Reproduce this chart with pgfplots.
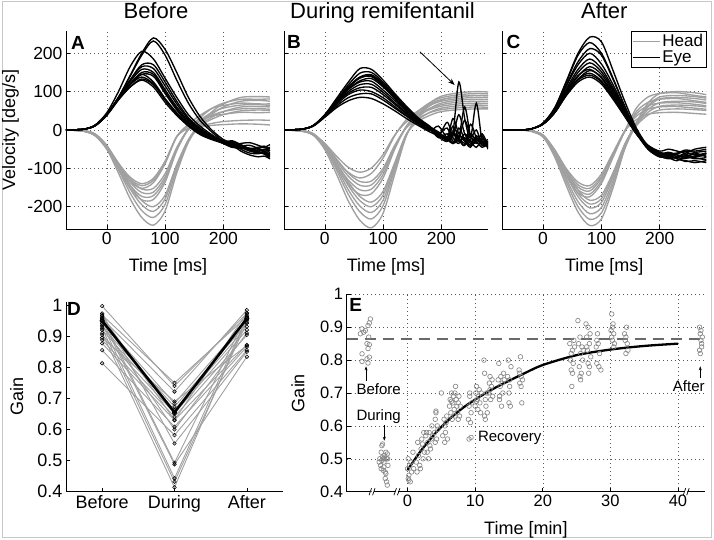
\documentclass[border=0pt]{standalone}
\usepackage{pgfplots}
\pgfplotsset{compat=1.18}
\usepackage{pgfplotstable}
\usetikzlibrary{arrows.meta}
\usepackage{fontspec}
\setmainfont{Liberation Sans}
\definecolor{headc}{RGB}{160,160,160}
\definecolor{ptc}{RGB}{135,135,135}
\definecolor{dashc}{RGB}{105,105,105}
\definecolor{gridc}{RGB}{90,90,90}

\tikzset{plab/.style={anchor=north west, inner sep=0pt, font=\bfseries\fontsize{19}{19}\selectfont}}
\pgfplotsset{
  myax/.style={
    scale only axis,
    axis lines=left,
    axis line style={-, line width=0.8pt},
    tick align=inside,
    major tick length=4pt,
    tick style={line width=0.6pt, black},
    /pgf/number format/assume math mode=true,
    tick label style={font=\fontsize{17.5}{17.5}\selectfont},
    label style={font=\fontsize{18}{18}\selectfont},
  },
  topax/.style={myax, width=204pt, height=198pt, xmin=-70, xmax=280, ymin=-258, ymax=258,
    xtick={0,100,200}, ytick={-200,-100,0,100,200},
    grid=major, grid style={gridc, dash pattern=on 0.8pt off 3.2pt, line width=0.5pt},
    xlabel={Time [ms]},
    xlabel style={at={(axis description cs:0.5,0)}, anchor=center, yshift=-37.5pt},
    title style={at={(axis description cs:0.5,1)}, anchor=base, yshift=6.5pt, font=\fontsize{22}{22}\selectfont},
  },
  headl/.style={headc, line width=1.35pt, smooth, no marks, forget plot},
  eyel/.style={black, line width=1.35pt, smooth, no marks, forget plot},
  dsub/.style={headc, line width=0.9pt, mark=o, mark size=1.8pt, mark options={black, line width=0.55pt}},
}

\pgfplotstableread{
t c1 c2 c3 c4 c5 c6 c7 c8 c9 c10 c11
-70 0 0 0 0 0 0 0 0 0 0 0
-40 -3 -3 -3 -2 -3 -3 -3 -2 -2 -2 -2
-20 -14 -15 -15 -12 -13 -14 -14 -10 -11 -11 -12
0 -45 -46 -49 -42 -44 -47 -49 -40 -42 -46 -50
20 -87 -90 -94 -86 -91 -96 -102 -90 -95 -103 -112
40 -123 -128 -134 -128 -136 -144 -152 -144 -153 -164 -179
60 -140 -145 -152 -154 -163 -173 -182 -184 -195 -210 -228
80 -126 -131 -137 -152 -162 -171 -181 -200 -212 -228 -248
100 -81 -84 -88 -114 -122 -129 -136 -170 -180 -194 -211
120 -17 -17 -18 -46 -48 -51 -54 -90 -95 -103 -112
140 10 15 4 2 3 1 2 -25 -27 -29 -32
160 25 38 8 22 32 10 26 17 10 15 12
180 36 56 12 38 56 17 45 47 28 41 33
200 41 64 14 48 70 22 57 68 40 60 48
230 46 70 16 55 80 25 65 85 50 75 60
260 45 68 15 56 80 26 66 87 52 77 61
280 46 68 13 54 81 25 64 86 51 75 60
}\AH

\pgfplotstableread{
t c1 c2 c3 c4 c5 c6 c7 c8 c9 c10 c11 c12
-70 0 0 0 0 0 0 0 0 0 0 0 0
-40 2 2 2 2 2 2 2 2 2 2 2 2
-20 12 11 12 12 12 11 12 12 12 13 11 11
0 40 38 40 41 40 39 40 41 40 45 40 40
20 80 78 82 82 80 80 84 85 83 100 85 85
40 112 112 118 120 118 120 126 130 130 165 140 142
60 130 133 138 145 145 150 158 165 170 205 195 200
80 112 118 120 125 140 145 150 160 170 185 232 240
100 72 78 80 82 95 100 105 115 125 135 195 210
120 38 42 44 45 52 55 60 68 75 85 130 150
140 10 12 14 15 18 20 24 28 32 40 70 85
160 -12 -10 -8 -6 -5 -3 0 2 5 10 25 35
180 -25 -22 -20 -18 -22 -18 -18 -18 -15 -12 -5 0
200 -35 -33 -28 -30 -35 -30 -32 -35 -30 -30 -30 -25
215 -45 -30 -38 -28 -45 -35 -42 -40 -40 -32 -42 -35
230 -42 -40 -35 -38 -48 -42 -45 -55 -42 -45 -45 -50
245 -40 -52 -33 -48 -50 -48 -50 -65 -50 -55 -48 -60
260 -48 -55 -40 -45 -58 -50 -60 -70 -48 -60 -55 -62
270 -55 -50 -45 -42 -62 -52 -55 -68 -45 -62 -62 -58
280 -52 -60 -38 -50 -70 -45 -65 -75 -55 -75 -60 -68
}\AE

\pgfplotstableread{
t c1 c2 c3 c4 c5 c6 c7 c8 c9 c10 c11
-70 0 0 0 0 0 0 0 0 0 0 0
-40 -2 -3 -2 -2 -2 -3 -2 -2 -2 -2 -3
-20 -11 -13 -11 -11 -12 -13 -9 -10 -11 -12 -13
0 -35 -40 -36 -39 -42 -46 -38 -40 -43 -46 -51
20 -68 -78 -75 -80 -87 -94 -85 -90 -97 -104 -115
40 -97 -110 -112 -120 -130 -140 -135 -144 -155 -167 -184
60 -110 -125 -134 -144 -156 -168 -173 -184 -198 -213 -235
80 -99 -113 -133 -143 -154 -166 -188 -200 -215 -232 -255
100 -64 -73 -100 -107 -116 -125 -160 -170 -183 -197 -217
120 -13 -15 -40 -43 -46 -50 -85 -90 -97 -104 -115
140 21 27 6 10 8 9 -10 -12 -14 -12 -15
160 39 50 30 48 38 43 22 32 40 26 36
180 53 68 45 71 56 64 38 56 70 46 63
200 62 79 53 84 66 75 48 70 88 57 79
230 68 87 58 92 73 82 53 78 97 63 87
260 70 90 60 95 75 85 55 80 100 65 90
280 69 89 59 94 74 84 55 79 99 64 89
}\BH

\pgfplotstableread{
t c1 c2 c3 c4 c5 c6 c7 c8 c9 c10 c11 c12
-70 0 0 0 0 0 0 0 0 0 0 0 0
-40 2 2 2 2 2 2 2 2 2 2 2 2
-20 10 10 11 11 11 11 11 11 11 11 12 11
0 33 35 36 37 38 38 38 38 39 39 40 38
20 58 62 66 70 72 74 74 76 76 78 82 76
40 76 84 92 96 100 105 106 110 112 117 124 110
60 85 94 104 110 118 125 128 136 138 148 160 135
80 82 94 100 111 119 127 134 139 144 150 158 141
100 68 78 84 92 98 104 112 115 120 124 130 118
120 50 57 61 67 71 77 82 85 88 91 95 88
140 30 36 38 42 45 49 52 55 56 58 62 58
160 12 16 16 19 21 23 25 28 28 30 32 30
180 -5 0 -2 2 3 4 5 6 5 8 10 6
195 -15 -12 10 -10 -8 -20 -15 -12 -18 -5 -10 -12
210 -25 -20 -20 5 -25 -10 20 -28 -30 -25 -20 -20
220 -10 -35 -5 -30 10 -35 -20 -15 -8 -35 30 -5
230 -30 -15 -25 -20 -20 5 -35 40 -25 -20 -10 125
240 -20 -30 -40 25 -35 -25 -10 -10 -40 60 -25 30
250 -35 -45 -10 -15 -25 -40 -30 -30 15 -15 -40 -20
260 -25 -20 -30 -35 0 -30 -45 -20 -20 -30 -15 70
270 -30 -35 -45 -20 -40 -15 -25 -40 -35 -10 -30 -30
280 -40 -30 -35 -45 -30 -50 -35 -30 -45 -40 -25 -40
}\BE

\pgfplotstableread{
t c1 c2 c3 c4 c5 c6 c7 c8 c9 c10 c11
-70 0 0 0 0 0 0 0 0 0 0 0
-40 0 0 0 0 0 0 0 0 0 0 0
-20 -3 -3 -3 -3 -4 -2 -2 -2 -2 -2 -3
0 -15 -16 -16 -17 -18 -13 -14 -14 -15 -16 -18
20 -52 -54 -57 -60 -62 -52 -55 -57 -62 -66 -71
40 -101 -105 -110 -116 -121 -107 -113 -119 -128 -136 -146
60 -136 -143 -149 -156 -164 -157 -166 -174 -187 -200 -214
80 -145 -152 -159 -167 -174 -183 -193 -203 -218 -233 -249
100 -115 -121 -126 -133 -139 -170 -179 -189 -202 -216 -232
120 -59 -62 -65 -68 -71 -111 -117 -123 -132 -141 -151
140 -3 -3 -3 -3 -4 -37 -39 -41 -44 -47 -50
160 27 48 36 57 42 17 11 20 15 18 13
180 41 72 54 86 63 60 39 70 53 63 46
200 45 80 60 95 70 81 52 95 71 86 62
230 46 82 61 97 71 85 55 100 75 90 65
260 43 76 57 90 67 82 53 97 73 87 63
280 41 72 54 86 63 78 51 92 69 83 60
}\CH

\pgfplotstableread{
t c1 c2 c3 c4 c5 c6 c7 c8 c9 c10 c11 c12
-70 0 0 0 0 0 0 0 0 0 0 0 0
-40 0 0 0 0 0 0 0 0 0 0 0 0
-20 3 3 3 3 3 3 3 3 3 3 3 3
0 15 16 15 15 16 16 16 17 17 17 18 18
20 45 47 46 45 48 48 50 52 54 55 58 58
40 90 93 95 92 100 98 103 108 115 118 125 128
60 125 130 133 132 142 140 150 158 170 178 195 200
80 138 143 148 155 158 165 175 185 200 212 228 242
100 120 125 128 138 135 145 152 160 172 195 200 230
120 80 84 86 95 90 100 105 110 118 132 135 155
140 35 38 38 45 40 48 50 52 55 62 62 75
160 -10 -8 -10 -5 -10 -5 -5 -8 -5 0 -5 5
180 -40 -42 -45 -40 -45 -42 -45 -50 -48 -45 -50 -42
200 -55 -60 -62 -58 -65 -60 -65 -70 -68 -65 -70 -65
215 -50 -65 -58 -62 -60 -68 -72 -66 -75 -70 -68 -72
230 -55 -62 -65 -60 -70 -65 -80 -75 -70 -72 -75 -70
245 -60 -55 -72 -52 -68 -70 -66 -80 -64 -74 -82 -60
260 -50 -58 -70 -55 -75 -60 -70 -85 -72 -68 -80 -65
280 -45 -55 -60 -50 -72 -70 -65 -80 -78 -60 -85 -62
}\CE

\begin{document}
\begin{tikzpicture}
\path[use as bounding box] (0pt,0pt) rectangle (714pt,540pt);
\draw[black!22, line width=0.8pt] (2.5pt,3pt) rectangle (711.5pt,539pt);

% ---------------- A ----------------
\begin{axis}[topax, at={(66pt,311pt)}, anchor=south west,
  title={Before}, title style={xshift=-12pt},
  ylabel={Velocity [deg/s]},
  ylabel style={at={(axis description cs:-0.272,0.5)}, anchor=center}]
\pgfplotsinvokeforeach{1,...,11}{\addplot[headl] table[x=t,y=c#1]{\AH};}
\pgfplotsinvokeforeach{1,...,12}{\addplot[eyel] table[x=t,y=c#1]{\AE};}
\node[plab, xshift=5pt, yshift=-5pt] at (rel axis cs:0,1) {A};
\end{axis}

% ---------------- B ----------------
\begin{axis}[topax, at={(284pt,311pt)}, anchor=south west,
  title={During remifentanil}, title style={xshift=-3.5pt},
  yticklabels={}]
\pgfplotsinvokeforeach{1,...,11}{\addplot[headl] table[x=t,y=c#1]{\BH};}
\pgfplotsinvokeforeach{1,...,12}{\addplot[eyel] table[x=t,y=c#1]{\BE};}
\draw[-{Stealth[length=7pt,width=5pt]}, line width=0.8pt] (axis cs:163,204) -- (axis cs:223,117);
\node[plab, xshift=3pt, yshift=-4pt] at (rel axis cs:0,1) {B};
\end{axis}

% ---------------- C ----------------
\begin{axis}[topax, at={(502.3pt,311pt)}, anchor=south west,
  title={After}, yticklabels={},
  legend style={at={(axis description cs:1,1)}, anchor=north east, draw=black, line width=0.6pt,
    font=\fontsize{17}{17}\selectfont, fill=white, inner xsep=1pt, inner ysep=1pt, row sep=-1.5pt, cells={anchor=west}},
  legend image code/.code={\draw[#1, line width=1.3pt] (0pt,0pt) -- (27pt,0pt);}]
\pgfplotsinvokeforeach{1,...,11}{\addplot[headl] table[x=t,y=c#1]{\CH};}
\pgfplotsinvokeforeach{1,...,12}{\addplot[eyel] table[x=t,y=c#1]{\CE};}
\addlegendimage{headc}
\addlegendentry{Head}
\addlegendimage{black}
\addlegendentry{Eye}
\node[plab, xshift=4pt, yshift=-4pt] at (rel axis cs:0,1) {C};
\end{axis}

% ---------------- D ----------------
\begin{axis}[myax, at={(66pt,48.3pt)}, anchor=south west, width=217pt, height=189.7pt,
  xmin=-0.5, xmax=2.5, ymin=0.4, ymax=1.01, clip=false,
  xtick={0,1,2}, xticklabels={Before,During,After},
  tick label style={font=\fontsize{18}{18}\selectfont},
  ytick={0.4,0.5,0.6,0.7,0.8,0.9,1},
  ylabel={Gain}, ylabel style={at={(axis description cs:-0.227,0.5)}, anchor=center}]
\addplot[dsub] coordinates {(0,0.997) (1,0.740) (2,0.973)};
\addplot[dsub] coordinates {(0,0.968) (1,0.750) (2,0.963)};
\addplot[dsub] coordinates {(0,0.957) (1,0.722) (2,0.984)};
\addplot[dsub] coordinates {(0,0.947) (1,0.684) (2,0.952)};
\addplot[dsub] coordinates {(0,0.930) (1,0.673) (2,0.941)};
\addplot[dsub] coordinates {(0,0.920) (1,0.663) (2,0.931)};
\addplot[dsub] coordinates {(0,0.904) (1,0.652) (2,0.920)};
\addplot[dsub] coordinates {(0,0.888) (1,0.641) (2,0.904)};
\addplot[dsub] coordinates {(0,0.877) (1,0.630) (2,0.872)};
\addplot[dsub] coordinates {(0,0.855) (1,0.609) (2,0.866)};
\addplot[dsub] coordinates {(0,0.813) (1,0.582) (2,0.855)};
\addplot[dsub] coordinates {(0,0.973) (1,0.555) (2,0.850)};
\addplot[dsub] coordinates {(0,0.960) (1,0.493) (2,0.968)};
\addplot[dsub] coordinates {(0,0.950) (1,0.488) (2,0.834)};
\addplot[dsub] coordinates {(0,0.940) (1,0.443) (2,0.960)};
\addplot[dsub] coordinates {(0,0.925) (1,0.432) (2,0.945)};
\addplot[dsub] coordinates {(0,0.910) (1,0.414) (2,0.957)};
\addplot[dsub] coordinates {(0,0.965) (1,0.630) (2,0.975)};
\addplot[dsub] coordinates {(0,0.935) (1,0.600) (2,0.910)};
\addplot[dsub] coordinates {(0,0.895) (1,0.690) (2,0.870)};
\addplot[black, line width=2.6pt, mark=o, mark size=2pt, mark options={black, line width=1pt}] coordinates {(0,0.950) (1,0.655) (2,0.957)};
\node[plab, xshift=1pt, yshift=0pt] at (rel axis cs:0,1) {D};
\end{axis}

% ---------------- E ----------------
\begin{axis}[myax, at={(346.7pt,48.3pt)}, anchor=south west, width=358.3pt, height=197.4pt,
  xmin=-9, xmax=44, ymin=0.4, ymax=1.0, clip=false,
  xtick={0,10,20,30,40}, ytick={0.4,0.5,0.6,0.7,0.8,0.9,1},
  tick label style={font=\fontsize{16.5}{16.5}\selectfont},
  grid=major, grid style={gridc, dash pattern=on 0.8pt off 3.2pt, line width=0.5pt},
  x axis line style={draw=none},
  xlabel={Time [min]}, xlabel style={at={(axis description cs:0.5,0)}, anchor=center, yshift=-38pt},
  ylabel={Gain}, ylabel style={at={(axis description cs:-0.136,0.5)}, anchor=center}]
\addplot[dashc, line width=1.8pt, dash pattern=on 11pt off 7pt, forget plot] coordinates {(-9,0.865) (44,0.865)};
\addplot[only marks, mark=o, mark size=2.3pt, ptc, mark options={line width=0.65pt}] coordinates {
(-6.73,0.895) (-6.49,0.885) (-6.24,0.890) (-5.85,0.905) (-5.5,0.925) (-5.65,0.913) (-5.75,0.870) (-6.0,0.850)
(-5.65,0.847) (-5.85,0.835) (-6.73,0.819) (-6.0,0.804) (-5.65,0.809) (-6.73,0.796) (-5.85,0.791) (-6.98,0.880)
(-4.1,0.50) (-4.0,0.48) (-3.9,0.52) (-3.8,0.54) (-3.7,0.545) (-3.9,0.47) (-3.6,0.50) (-3.5,0.49) (-3.4,0.51)
(-3.3,0.46) (-3.2,0.52) (-3.1,0.50) (-3.0,0.515) (-2.9,0.48) (-3.5,0.475) (-3.7,0.505) (-4.2,0.49) (-3.3,0.44)
(-3.2,0.455) (-3.1,0.43) (-3.0,0.42) (-3.6,0.465) (-3.8,0.495) (-3.4,0.50) (-2.95,0.50)
(0.0,0.47) (0.1,0.44) (0.2,0.45) (0.3,0.48) (0.1,0.50) (0.4,0.43) (0.6,0.46) (0.8,0.52) (0.5,0.49) (0.9,0.47) (0.2,0.435)
(1.3,0.49) (1.5,0.55) (1.6,0.51) (1.8,0.48) (2.0,0.53) (2.1,0.56) (2.3,0.50) (2.4,0.58) (1.9,0.47) (2.2,0.545) (1.4,0.46) (2.5,0.52)
(2.7,0.57) (2.9,0.52) (3.0,0.55) (3.1,0.50) (3.2,0.58) (3.3,0.54) (3.5,0.56) (3.6,0.60) (3.4,0.53) (2.8,0.58) (3.7,0.57)
(4.0,0.58) (4.1,0.62) (4.2,0.64) (4.3,0.56) (4.4,0.60) (4.1,0.55) (4.5,0.59) (4.2,0.645)
(5.0,0.70) (5.2,0.57) (5.4,0.62) (5.5,0.60) (5.6,0.58) (5.8,0.63) (5.9,0.56) (5.5,0.55) (5.7,0.61)
(6.2,0.66) (6.3,0.68) (6.4,0.64) (6.5,0.70) (6.6,0.62) (6.7,0.67) (6.8,0.69) (6.9,0.65) (7.0,0.63) (7.1,0.72)
(7.2,0.68) (7.3,0.66) (7.4,0.64) (7.5,0.67) (7.6,0.69) (7.7,0.63) (7.8,0.66) (6.5,0.675) (7.0,0.70) (7.5,0.62)
(9.0,0.62) (9.1,0.66) (9.2,0.69) (9.3,0.61) (9.4,0.64) (9.5,0.67) (9.2,0.70) (9.4,0.565) (9.1,0.56)
(10.0,0.66) (10.1,0.70) (10.2,0.72) (10.3,0.68) (10.4,0.65) (10.5,0.69) (10.6,0.71) (10.7,0.67) (10.8,0.64) (10.9,0.70) (10.2,0.675)
(11.3,0.80) (11.4,0.63) (11.5,0.62) (11.6,0.66) (11.7,0.70) (11.5,0.68) (11.8,0.64) (11.4,0.76)
(12.0,0.70) (12.1,0.73) (12.2,0.75) (12.3,0.68) (12.4,0.72) (12.5,0.74) (12.2,0.71) (12.6,0.69)
(13.4,0.74) (13.5,0.79) (13.6,0.69) (13.7,0.72) (13.8,0.75) (13.9,0.66) (14.0,0.73) (14.1,0.70) (14.2,0.76) (13.6,0.68) (14.3,0.74)
(14.8,0.75) (14.9,0.80) (15.0,0.70) (15.1,0.72) (15.2,0.66) (15.3,0.78) (15.0,0.67) (15.1,0.74)
(16.5,0.77) (16.6,0.73) (16.7,0.81) (16.8,0.75) (16.9,0.67) (16.6,0.76) (16.8,0.72) (17.0,0.74)
(24.0,0.85) (24.1,0.80) (24.2,0.77) (24.3,0.72) (24.4,0.83) (24.5,0.79) (24.6,0.86) (24.2,0.82) (24.7,0.84) (24.4,0.76)
(25.2,0.92) (25.3,0.85) (25.4,0.78) (25.5,0.75) (25.6,0.82) (25.7,0.76) (25.8,0.84) (25.9,0.80) (25.5,0.87) (25.6,0.74) (26.0,0.83)
(26.4,0.91) (26.5,0.87) (26.6,0.83) (26.7,0.79) (26.8,0.76) (26.9,0.85) (27.0,0.88) (27.1,0.81) (26.7,0.90) (26.9,0.78) (26.5,0.84)
(27.9,0.84) (28.0,0.79) (28.1,0.88) (28.2,0.85) (28.3,0.78) (28.4,0.82) (28.6,0.77) (28.0,0.86)
(30.1,0.89) (30.2,0.94) (30.3,0.86) (30.4,0.91) (30.5,0.88) (30.6,0.85) (30.3,0.90) (30.5,0.84) (30.2,0.87)
(32.1,0.88) (32.2,0.86) (32.3,0.82) (32.4,0.90) (32.5,0.85) (32.6,0.83) (32.3,0.87)
(43.2,0.90) (43.3,0.88) (43.4,0.86) (43.5,0.84) (43.3,0.82) (43.6,0.87) (43.4,0.89) (43.5,0.85) (43.2,0.83)
};
\addplot[black, line width=2.3pt, smooth] coordinates {
(0,0.466) (2,0.525) (4,0.575) (6,0.617) (8,0.652) (10,0.680) (12,0.705) (14,0.727) (17,0.757) (20,0.785) (25,0.815) (30,0.832) (35,0.843) (40,0.850)};
% broken x axis
\draw[line width=0.8pt] (axis cs:-9,0.4) -- (axis cs:-5.5,0.4);
\draw[line width=0.8pt] (axis cs:-5.0,0.4) -- (axis cs:-1.8,0.4);
\draw[line width=0.8pt] (axis cs:-1.35,0.4) -- (axis cs:41.0,0.4);
\draw[line width=0.8pt] (axis cs:41.45,0.4) -- (axis cs:44,0.4);
\pgfplotsinvokeforeach{-5.25,-1.57,41.22}{
  \draw[line width=0.7pt] ([xshift=-3pt,yshift=-3.5pt]axis cs:#1,0.4) -- ++(2.5pt,7pt);
  \draw[line width=0.7pt] ([xshift=0.5pt,yshift=-3.5pt]axis cs:#1,0.4) -- ++(2.5pt,7pt);
}
% annotations
\node[font=\fontsize{15}{15}\selectfont] at (axis cs:-4.28,0.711) {Before};
\draw[-{Stealth[length=4pt,width=3pt]}, line width=0.6pt] (axis cs:-6.14,0.735) -- (axis cs:-6.14,0.781);
\node[font=\fontsize{15}{15}\selectfont] at (axis cs:-4.28,0.628) {During};
\draw[-{Stealth[length=4pt,width=3pt]}, line width=0.6pt] (axis cs:-3.44,0.602) -- (axis cs:-3.44,0.555);
\node[anchor=west, inner sep=0pt, font=\fontsize{15}{15}\selectfont] at (axis cs:10.4,0.564) {Recovery};
\node[font=\fontsize{15}{15}\selectfont] at (axis cs:41.6,0.722) {After};
\draw[-{Stealth[length=4pt,width=3pt]}, line width=0.6pt] (axis cs:43.3,0.745) -- (axis cs:43.3,0.781);
\node[plab, xshift=2.5pt, yshift=-4pt] at (rel axis cs:0,1) {E};
\end{axis}
\end{tikzpicture}
\end{document}
